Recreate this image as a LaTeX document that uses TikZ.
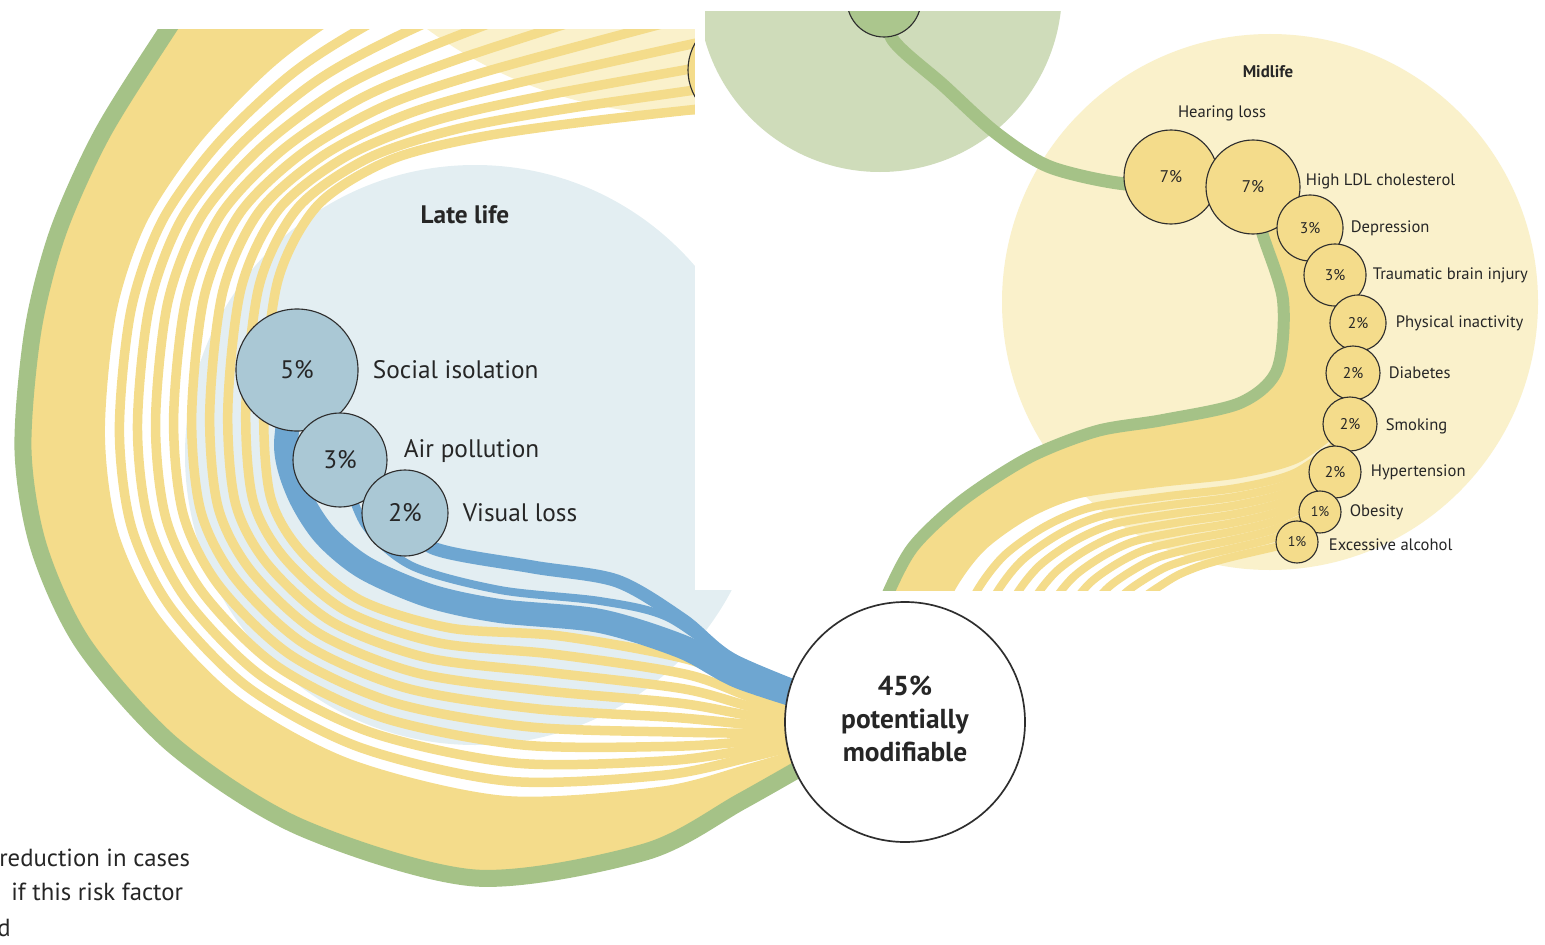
\documentclass[tikz,border=0pt]{standalone}
\usepackage{fontspec}
\setmainfont{PT Sans}
\usetikzlibrary{positioning,calc}
\definecolor{greenband}{HTML}{A5C287}
\definecolor{yellowband}{HTML}{F4DC8B}
\definecolor{paleyellow}{HTML}{FAF1CB}
\definecolor{paleblue}{HTML}{E3EEF2}
\definecolor{blueband}{HTML}{6EA6D1}
\definecolor{bluedot}{HTML}{AAC8D5}
\definecolor{palegreen}{HTML}{CFDCBA}
\definecolor{greendot}{HTML}{ABC68D}
\definecolor{rim}{HTML}{2E2E2E}
\definecolor{inktext}{HTML}{262626}

\tikzset{
  strand/.style={line width=#1*0.25mm},
  riskdot/.style={circle, draw=rim, line width=0.8pt, inner sep=0pt, minimum size=#1*0.5mm, text=inktext},
  latedot/.style={riskdot=#1, fill=bluedot, font=\fontsize{18}{20}\selectfont},
  middot/.style={riskdot=#1, fill=yellowband, font=\fontsize{11}{13}\selectfont},
  latename/.style={font=\fontsize{18}{20}\selectfont, text=inktext, inner sep=0pt},
  midname/.style={font=\fontsize{11.8}{14}\selectfont, text=inktext, inner sep=0pt},
  note/.style={font=\fontsize{17.6}{20}\selectfont, text=inktext, inner sep=0pt, anchor=west}
}

\begin{document}
\begin{tikzpicture}[x=0.25mm, y=-0.25mm]
\useasboundingbox (0,0) rectangle (1545,945);

% centres of the dots
\foreach \n/\p in {social/{297,370}, air/{340,460}, visual/{405,513}, early/{884,0},
    hearing/{1171,177}, ldl/{1253,187}, dep/{1310,228}, tbi/{1335,275}, inact/{1358,323},
    diab/{1353,373}, smok/{1350,424}, hyper/{1335,472}, obes/{1320,512}, alc/{1297,542}}
  \coordinate (\n-c) at (\p);

% late life panel
\begin{scope}
\clip (0,30) rectangle (1545,945);
\fill[paleyellow] (690,-330) circle[radius=445];
\fill[paleblue] (475,455) circle[radius=290];
% outer (o) and inner (i) rims of the arc of strands
\foreach \k/\ox/\oy/\ix/\iy in {1/300/-150/830/95, 2/215/-40/600/120, 3/166/32/480/137,
    4/102/134/390/160, 5/58/232/318/205, 6/33/330/278/280, 7/23/450/264/400,
    8/39/548/270/495, 9/84/645/300/550, 10/174/746/360/600, 11/300/827/450/628,
    12/475/878/560/636, 13/645/852/690/660, 14/742/801/760/692, 15/835/748/835/718}{
  \coordinate (o\k) at (\ox,\oy);
  \coordinate (i\k) at (\ix,\iy);
  \coordinate (b\k) at ($(o\k)!0.34!(i\k)$);
}
\fill[yellowband] plot[smooth] coordinates {(o1)(o2)(o3)(o4)(o5)(o6)(o7)(o8)(o9)(o10)(o11)(o12)(o13)(o14)(o15)}
  -- plot[smooth] coordinates {(b15)(b14)(b13)(b12)(b11)(b10)(b9)(b8)(b7)(b6)(b5)(b4)(b3)(b2)(b1)} -- cycle;
\draw[greenband, strand=17] plot[smooth] coordinates
  {(o1)(o2)(o3)(o4)(o5)(o6)(o7)(o8)(o9)(o10)(o11)(o12)(o13)(o14)(o15)};
\foreach \t [count=\s] in {0.40,0.475,0.55,0.625,0.70,0.775,0.85,0.925,1.0}{
  \foreach \k in {1,...,15} \coordinate (m\s-\k) at ($(o\k)!\t!(i\k)$);
  \draw[yellowband, strand=9.5] plot[smooth] coordinates {(m\s-1)(m\s-2)(m\s-3)(m\s-4)(m\s-5)
    (m\s-6)(m\s-7)(m\s-8)(m\s-9)(m\s-10)(m\s-11)(m\s-12)(m\s-13)(m\s-14)(m\s-15)};
}
% blue strands
\draw[blueband, strand=24] plot[smooth] coordinates {(social-c)(286,445)(298,492)(324,534)
  (365,568)(430,596)(500,611)(600,621)(683,647)(740,677)(830,706)};
\draw[blueband, strand=8] plot[smooth] coordinates {(air-c)(365,525)(412,566)(500,590)
  (600,601)(667,617)(740,665)(830,702)};
\draw[blueband, strand=13] plot[smooth] coordinates {(visual-c)(433,548)(533,567)(617,581)
  (683,620)(733,660)(830,700)};

\node[latedot=61] (social) at (social-c) {5\%};
\node[latedot=47] (air) at (air-c) {3\%};
\node[latedot=43] (visual) at (visual-c) {2\%};
\node[latename, right=3.5mm of social] (social-l) {Social isolation};
\node[latename, right=4mm of air, yshift=2.2mm] (air-l) {Air pollution};
\node[latename, right=3.5mm of visual] (visual-l) {Visual loss};
\node[font=\bfseries\fontsize{18}{20}\selectfont, text=inktext] (late) at (465,215) {Late life};
\filldraw[fill=yellowband, draw=rim, line width=0.8pt] (742,70) circle[radius=54];
\end{scope}

\fill[white] (695,0) rectangle (1545,590);

% midlife panel
\begin{scope}
\clip (705,12) rectangle (1545,590);
\fill[palegreen] (880,-10) circle[radius=182];
\fill[paleyellow] (1270,302) circle[radius=268];
\draw[greenband, strand=13] plot[smooth] coordinates {(early-c)(893,40)(943,85)(996,133)
  (1050,167)(1126,184)(hearing-c)};
\foreach \k/\ax/\ay/\bx/\by in {1/1350/424/1297/542, 2/1300/462/1262/550, 3/1240/478/1228/558,
    4/1160/487/1200/566, 5/1080/498/1178/575, 6/1030/518/1160/586, 7/985/550/1143/598,
    8/955/590/1128/615, 9/935/640/1115/640}{
  \coordinate (p\k) at (\ax,\ay);
  \coordinate (j\k) at (\bx,\by);
}
\fill[yellowband] plot[smooth] coordinates {(ldl-c)(1262,232)(1283,300)(1277,370)(1240,403)
  (1163,420)(1097,431)(1030,457)(963,500)(913,547)(885,600)(870,640)}
  -- plot[smooth] coordinates {(p9)(p8)(p7)(p6)(p5)(p4)(p3)(p2)(p1)}
  -- (diab-c) -- (inact-c) -- (tbi-c) -- (dep-c) -- cycle;
\draw[greenband, strand=12] plot[smooth] coordinates {(ldl-c)(1262,232)(1283,300)(1277,370)
  (1240,403)(1163,420)(1097,431)(1030,457)(963,500)(913,547)(885,600)(870,640)};
\foreach \t [count=\s] in {0.12,0.23,0.34,0.45,0.56,0.67,0.78,0.89,1.0}{
  \foreach \k in {1,...,9} \coordinate (q\s-\k) at ($(p\k)!\t!(j\k)$);
  \draw[yellowband, strand=8] plot[smooth] coordinates
    {(q\s-1)(q\s-2)(q\s-3)(q\s-4)(q\s-5)(q\s-6)(q\s-7)(q\s-8)(q\s-9)};
}

\node[riskdot=37, fill=greendot] (early) at (early-c) {};
\node[middot=47, font=\fontsize{12}{14}\selectfont] (hearing) at (hearing-c) {7\%};
\node[middot=47, font=\fontsize{12}{14}\selectfont] (ldl) at (ldl-c) {7\%};
\node[middot=33] (dep) at (dep-c) {3\%};
\node[middot=31] (tbi) at (tbi-c) {3\%};
\node[middot=28] (inact) at (inact-c) {2\%};
\node[middot=27] (diab) at (diab-c) {2\%};
\node[middot=27] (smok) at (smok-c) {2\%};
\node[middot=26] (hyper) at (hyper-c) {2\%};
\node[middot=21, font=\fontsize{10}{12}\selectfont] (obes) at (obes-c) {1\%};
\node[middot=21, font=\fontsize{10}{12}\selectfont] (alc) at (alc-c) {1\%};

\node[midname] (hearing-l) at (1222,113) {Hearing loss};
\node[midname, right=1.25mm of ldl, yshift=1.5mm] (ldl-l) {High LDL cholesterol};
\node[midname, right=1.75mm of dep] (dep-l) {Depression};
\node[midname, right=1.5mm of tbi] (tbi-l) {Traumatic brain injury};
\node[midname, right=2.25mm of inact] (inact-l) {Physical inactivity};
\node[midname, right=2mm of diab] (diab-l) {Diabetes};
\node[midname, right=2mm of smok, yshift=-0.5mm] (smok-l) {Smoking};
\node[midname, right=2.25mm of hyper] (hyper-l) {Hypertension};
\node[midname, right=2mm of obes] (obes-l) {Obesity};
\node[midname, right=2.5mm of alc, yshift=-0.75mm] (alc-l) {Excessive alcohol};
\node[font=\bfseries\fontsize{12}{14}\selectfont, text=inktext] (mid) at (1268,72) {Midlife};
\end{scope}

% total
\node[circle, draw=rim, line width=1.2pt, fill=white, minimum size=120*0.5mm,
  text=inktext, font=\bfseries\fontsize{19.5}{23.5}\selectfont] (total) at (905,722)
  {\raisebox{2.7mm}{\begin{tabular}{@{}c@{}}45\%\\potentially\\modifiable\end{tabular}}};

\node[note] (note-a) at (-1,858) {reduction in cases};
\node[note] (note-b) at (11,892) {if this risk factor};
\node[note] (note-c) at (-3,928) {d};
\end{tikzpicture}
\end{document}
